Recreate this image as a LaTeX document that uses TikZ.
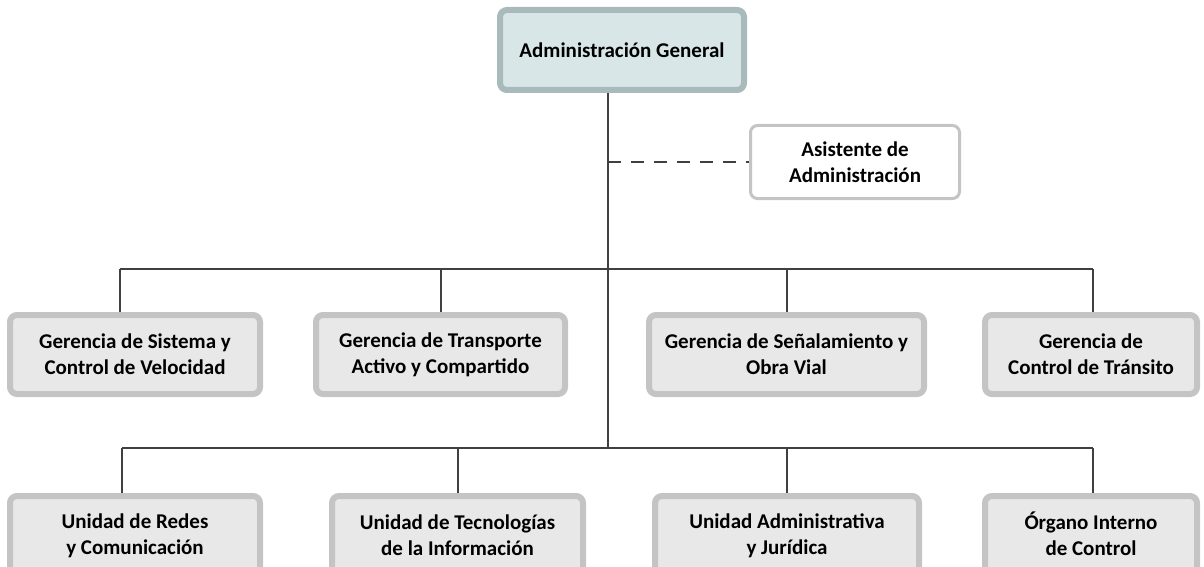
\documentclass[tikz,border=0pt]{standalone}
\usepackage{fontspec}
\setmainfont{Carlito}
\usetikzlibrary{backgrounds}
\definecolor{lnc}{HTML}{404040}
\definecolor{boxfill}{HTML}{E8E8E8}
\definecolor{boxline}{HTML}{C4C4C4}
\definecolor{topfill}{HTML}{D8E6E8}
\definecolor{topline}{HTML}{A8BABB}
\tikzset{
  gbox/.style={draw=boxline, line width=6pt, fill=boxfill, rounded corners=7pt,
    align=center, font=\fontsize{21}{26}\selectfont\bfseries, inner sep=0pt},
  topbox/.style={gbox, draw=topline, fill=topfill},
  asbox/.style={gbox, draw=boxline, line width=3pt, fill=white},
  conn/.style={draw=lnc, line width=1.5pt},
  dconn/.style={conn, dash pattern=on 13pt off 10pt}
}
\begin{document}
\begin{tikzpicture}[x=1pt,y=-1pt]
\useasboundingbox (0,0) rectangle (1204,567);
\clip (0,0) rectangle (1204,567);
\node[topbox, minimum width=244pt, minimum height=80pt] (top) at (622,50) {Administración General};
\node[asbox, minimum width=209pt, minimum height=73pt] (asis) at (855,162) {Asistente de\\Administración};

\node[gbox, minimum width=250pt, minimum height=79pt] (g1) at (135,354.5) {Gerencia de Sistema y\\Control de Velocidad};
\node[gbox, minimum width=249pt, minimum height=79pt] (g2) at (440.5,354.5) {Gerencia de Transporte\\Activo y Compartido};
\node[gbox, minimum width=275pt, minimum height=79pt] (g3) at (786.5,354.5) {Gerencia de Señalamiento y\\Obra Vial};
\node[gbox, minimum width=212pt, minimum height=79pt] (g4) at (1091,354.5) {Gerencia de\\Control de Tránsito};

\node[gbox, minimum width=250pt, minimum height=79pt] (u1) at (135,535.5) {Unidad de Redes\\y Comunicación};
\node[gbox, minimum width=251pt, minimum height=79pt] (u2) at (457.5,535.5) {Unidad de Tecnologías\\de la Información};
\node[gbox, minimum width=264pt, minimum height=79pt] (u3) at (787,535.5) {Unidad Administrativa\\y Jurídica};
\node[gbox, minimum width=212pt, minimum height=79pt] (u4) at (1091,535.5) {\smash{Ó}rgano Interno\\de Control};

\coordinate (j0) at (608,162);
\coordinate (j1) at (608,269);
\coordinate (j2) at (608,448);
\coordinate (a1) at (120,269);
\coordinate (a2) at (441,269);
\coordinate (a3) at (787,269);
\coordinate (a4) at (1093,269);
\coordinate (c1) at (122,448);
\coordinate (c2) at (458,448);
\coordinate (c3) at (787,448);
\coordinate (c4) at (1093,448);

\begin{scope}[on background layer]
\draw[conn] (top.south -| j2) -- (j2);
\draw[dconn] (j0) -- (asis.west);
\draw[conn] (a1) -- (a4);
\draw[conn] (c1) -- (c4);
\draw[conn] (a1) -- (a1 |- g1.north);
\draw[conn] (a2) -- (a2 |- g2.north);
\draw[conn] (a3) -- (a3 |- g3.north);
\draw[conn] (a4) -- (a4 |- g4.north);
\draw[conn] (c1) -- (c1 |- u1.north);
\draw[conn] (c2) -- (c2 |- u2.north);
\draw[conn] (c3) -- (c3 |- u3.north);
\draw[conn] (c4) -- (c4 |- u4.north);
\end{scope}
\end{tikzpicture}
\end{document}
